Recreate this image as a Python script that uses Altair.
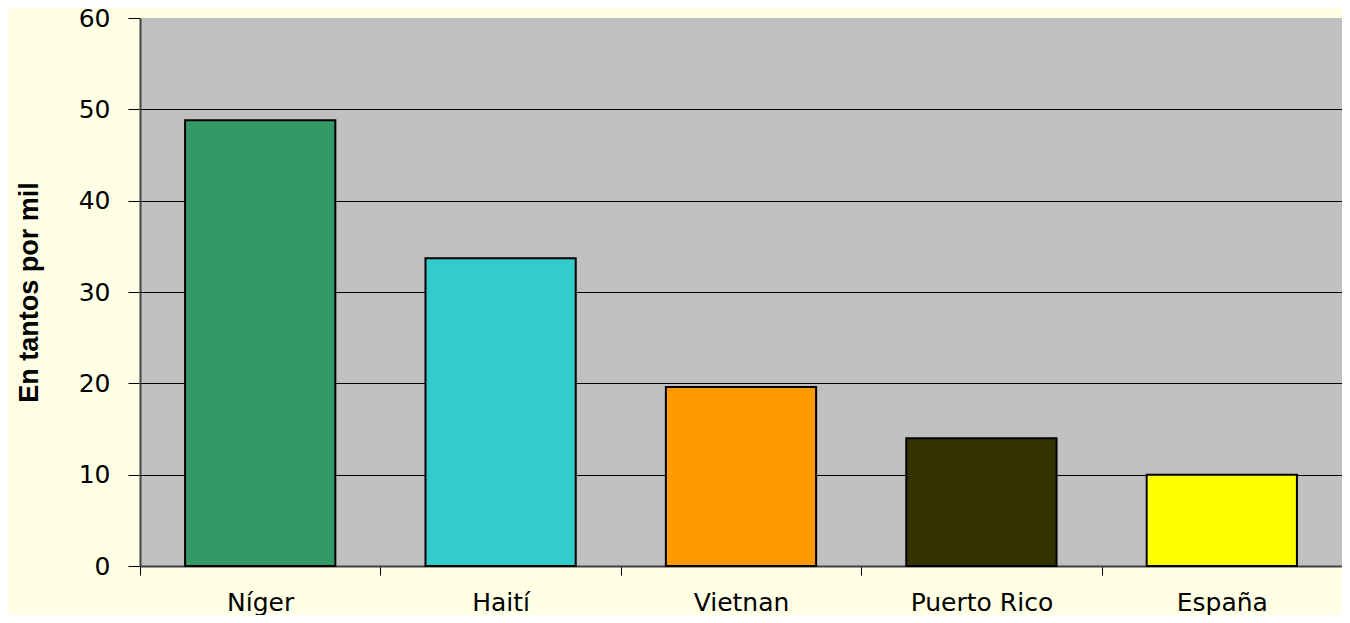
import altair as alt
import pandas as pd

paises = ["Níger", "Haití", "Vietnan", "Puerto Rico", "España"]
valores = [48.8, 33.7, 19.6, 14.0, 10.0]
colores = ["#339966", "#33CCCC", "#FF9900", "#333300", "#FFFF00"]

df = pd.DataFrame({"pais": paises, "valor": valores, "color": colores})

chart = alt.Chart(df).mark_bar(
    stroke="#000000", strokeWidth=2, width=alt.RelativeBandSize(0.625)
).encode(
    x=alt.X("pais:N", sort=paises, title=None,
            scale=alt.Scale(paddingInner=0, paddingOuter=0),
            axis=alt.Axis(labelAngle=0, labelFont="DejaVu Sans", labelFontSize=25,
                          labelColor="#000000", labelPadding=15, tickBand="extent",
                          tickSize=9, tickColor="#000000", domainColor="#404040",
                          domainWidth=2, grid=False)),
    y=alt.Y("valor:Q", title="En tantos por mil",
            scale=alt.Scale(domain=[0, 60], nice=False),
            axis=alt.Axis(values=[0, 10, 20, 30, 40, 50, 60], labelFont="DejaVu Sans",
                          labelFontSize=25, labelColor="#000000", labelPadding=18,
                          tickSize=12, tickColor="#000000", domainColor="#404040",
                          domainWidth=2, gridColor="#000000", gridWidth=1,
                          gridOpacity={"condition": {"test": "datum.value == 60", "value": 0}, "value": 1},
                          titleFont="Liberation Sans", titleFontSize=27,
                          titleFontWeight="bold", titleColor="#000000",
                          titleX=-111, titleY=274, titleAngle=270,
                          titleAlign="center", titleBaseline="middle")),
    color=alt.Color("color:N", scale=None),
).properties(
    width=1202, height=548,
    background="#FFFFE6",
    autosize=alt.AutoSizeParams(type="none"),
    padding={"left": 132, "top": 10, "right": 0, "bottom": 49},
).configure_view(fill="#C0C0C0", stroke=None)

chart.save("out.html", embed_options={"renderer": "svg", "actions": False})
